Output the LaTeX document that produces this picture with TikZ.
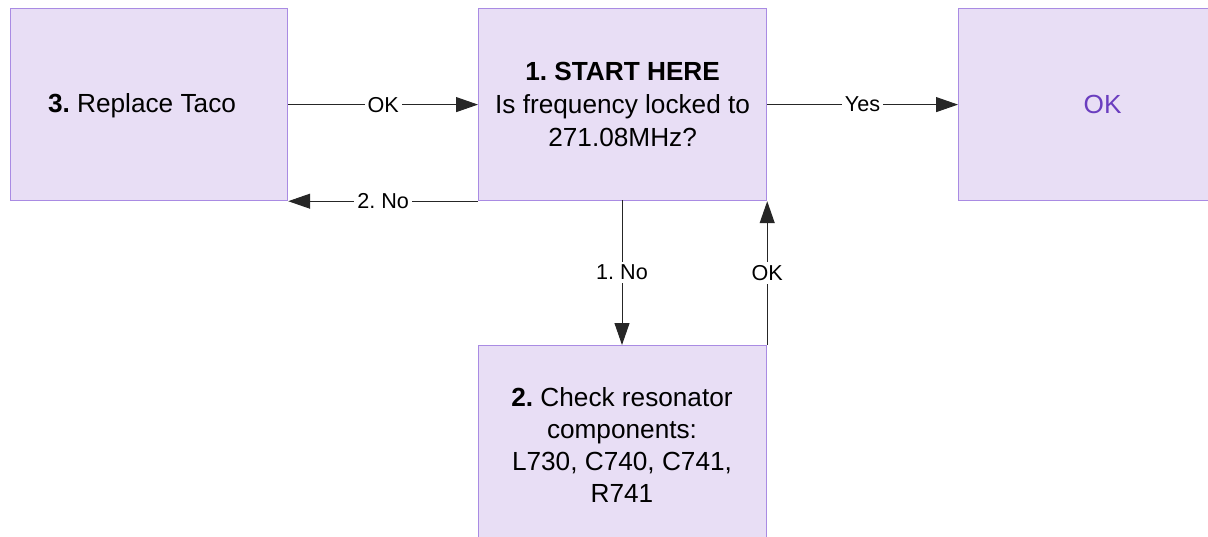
\documentclass[tikz,border=0pt]{standalone}
\usepackage{fontspec}
\setmainfont{Liberation Sans}
\usetikzlibrary{arrows.meta}
\frenchspacing
\definecolor{boxfill}{HTML}{E8DEF5}
\definecolor{boxline}{HTML}{A98BE3}
\definecolor{oktext}{HTML}{6A3DBF}
\tikzset{
  boxfont/.style={font=\fontsize{13.1}{16.5}\selectfont},
  flowbox/.style={draw=boxline, fill=boxfill, line width=0.6pt, minimum width=144pt, minimum height=96pt, inner sep=0pt, align=center, boxfont},
  conn/.style={draw=black!85, line width=0.5pt, -{Triangle[length=11pt,width=7.5pt]}},
  elabel/.style={fill=white, inner sep=1.5pt, font=\fontsize{10.8}{12}\selectfont, text=black}
}
\begin{document}
\begin{tikzpicture}[x=0.5pt,y=-0.5pt]
\useasboundingbox (0,0) rectangle (1208,536);
% left box (10..287)
\node[flowbox, minimum width=138.5pt, anchor=north west] (L) at (10,8) {};
\node[boxfont] (Lt) at (142,106) {\textbf{3.} Replace Taco};
% middle box
\node[flowbox, anchor=north west] (M) at (478,8) {\textbf{1. START HERE}\\Is frequency locked to\\271.08MHz?};
% right box
\node[flowbox, anchor=north west, text=oktext] (R) at (958,8) {OK};
% bottom box
\node[flowbox, anchor=north west, minimum height=98pt] (B) at (478,345) {};
\node[align=center, font=\fontsize{13.1}{16}\selectfont] (Bt) at (622,445) {\textbf{2.} Check resonator\\components:\\L730, C740, C741,\\R741};
% coordinates
\coordinate (Mb) at (622,200);
\coordinate (Bt1) at (622,345);
% connectors
\draw[conn] (L.east) -- node[elabel] {OK} (M.west);
\draw[conn] (M.south west) -- node[elabel] {2. No} (L.south east);
\draw[conn] (M.east) -- node[elabel] {Yes} (R.west);
\draw[conn] (Mb) -- node[elabel] {1. No} (Bt1);
\draw[conn] (B.north east) -- node[elabel] {OK} (M.south east);
\end{tikzpicture}
\end{document}
